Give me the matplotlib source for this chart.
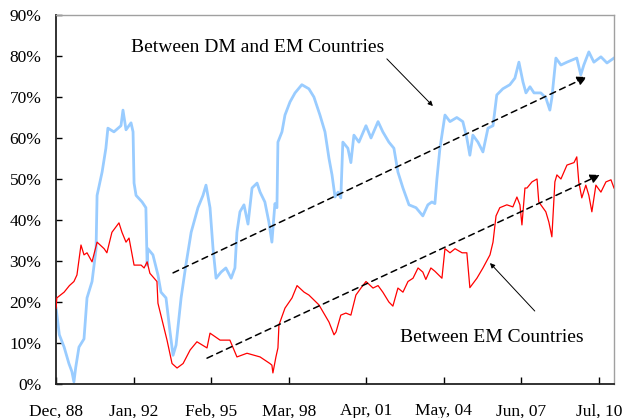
import matplotlib
matplotlib.use("Agg")
import matplotlib.pyplot as plt

# ---- data (decimal years, correlation in %) ----
dm_em_t = [1988.92, 1989.05, 1989.24, 1989.43, 1989.55, 1989.63, 1989.70, 1989.83, 1990.03, 1990.15,
           1990.35, 1990.51, 1990.55, 1990.75, 1990.90, 1990.98, 1991.22, 1991.50, 1991.58, 1991.70,
           1991.90, 1991.98, 1992.02, 1992.10, 1992.34, 1992.49, 1992.54, 1992.57, 1992.77, 1992.97,
           1993.09, 1993.29, 1993.45, 1993.57, 1993.69, 1993.89, 1994.08, 1994.29, 1994.56, 1994.76,
           1994.88, 1995.04, 1995.16, 1995.28, 1995.48, 1995.67, 1995.88, 1996.03, 1996.11, 1996.23,
           1996.39, 1996.55, 1996.71, 1996.91, 1997.03, 1997.22, 1997.38, 1997.50, 1997.62, 1997.70,
           1997.74, 1997.90, 1998.02, 1998.22, 1998.42, 1998.69, 1998.97, 1999.17, 1999.41, 1999.61,
           1999.77, 1999.89, 2000.01, 2000.13, 2000.24, 2000.32, 2000.52, 2000.64, 2000.76, 2000.96,
           2001.24, 2001.44, 2001.72, 2001.91, 2002.15, 2002.35, 2002.51, 2002.71, 2002.95, 2003.23,
           2003.50, 2003.70, 2003.86, 2003.98, 2004.06, 2004.18, 2004.38, 2004.58, 2004.85, 2005.09,
           2005.25, 2005.37, 2005.49, 2005.69, 2005.89, 2006.09, 2006.29, 2006.44, 2006.68, 2006.96,
           2007.16, 2007.32, 2007.48, 2007.60, 2007.76, 2007.92, 2008.19, 2008.39, 2008.55, 2008.63,
           2008.79, 2008.99, 2009.23, 2009.62, 2009.78, 2009.90, 2010.10, 2010.30, 2010.58, 2010.82,
           2011.10]
dm_em_v = [18.5, 12.0, 9.0, 5.0, 3.0, 0.5, 4.0, 9.0, 11.0, 21.0,
           25.0, 33.0, 46.0, 51.7, 57.5, 62.4, 61.5, 63.0, 66.8, 62.0,
           63.7, 61.5, 49.0, 46.0, 44.4, 43.0, 29.0, 33.0, 31.5, 26.6,
           22.4, 21.0, 12.7, 7.0, 9.5, 21.0, 29.0, 37.0, 43.0, 46.0,
           48.5, 43.0, 33.0, 25.8, 27.3, 28.3, 25.8, 28.3, 37.0, 42.0,
           43.7, 39.0, 47.8, 49.0, 46.8, 44.4, 39.5, 34.6, 44.0, 43.0,
           59.0, 61.5, 65.6, 68.8, 71.0, 73.0, 72.0, 70.0, 65.6, 61.5,
           55.0, 51.0, 45.6, 46.8, 45.4, 59.0, 57.5, 54.0, 60.7, 59.0,
           63.0, 60.0, 64.0, 61.5, 59.0, 57.5, 51.7, 47.8, 43.7, 43.0,
           41.0, 43.7, 44.4, 44.0, 50.0, 57.5, 65.6, 64.0, 65.0, 64.0,
           60.0, 55.8, 60.7, 59.0, 56.6, 62.4, 63.0, 70.5, 72.0, 73.0,
           74.6, 78.5, 73.7, 71.0, 72.5, 71.0, 71.0, 69.8, 66.8, 69.8,
           79.5, 77.8, 78.5, 79.5, 75.4, 77.8, 81.0, 78.5, 79.8, 78.3,
           79.5]

em_t = [1988.92, 1988.95, 1989.24, 1989.45, 1989.63, 1989.75, 1989.91, 1990.03, 1990.15, 1990.35,
        1990.55, 1990.83, 1990.94, 1991.14, 1991.42, 1991.54, 1991.70, 1991.82, 1992.02, 1992.30,
        1992.42, 1992.54, 1992.65, 1992.93, 1992.97, 1993.33, 1993.53, 1993.73, 1993.97, 1994.25,
        1994.52, 1994.92, 1995.04, 1995.44, 1995.83, 1996.11, 1996.51, 1997.03, 1997.42, 1997.50,
        1997.54, 1997.66, 1997.74, 1997.78, 1998.02, 1998.30, 1998.50, 1998.78, 1998.97, 1999.37,
        1999.77, 1999.97, 2000.05, 2000.24, 2000.44, 2000.64, 2000.84, 2001.04, 2001.24, 2001.52,
        2001.72, 2001.91, 2002.15, 2002.31, 2002.51, 2002.71, 2002.91, 2003.11, 2003.31, 2003.50,
        2003.62, 2003.82, 2003.98, 2004.26, 2004.38, 2004.58, 2004.78, 2005.06, 2005.25, 2005.37,
        2005.65, 2005.89, 2006.17, 2006.29, 2006.41, 2006.56, 2006.84, 2007.08, 2007.24, 2007.36,
        2007.44, 2007.56, 2007.64, 2007.84, 2008.04, 2008.11, 2008.39, 2008.51, 2008.63, 2008.75,
        2008.83, 2008.99, 2009.23, 2009.51, 2009.62, 2009.70, 2009.82, 2009.98, 2010.10, 2010.22,
        2010.38, 2010.58, 2010.78, 2010.98, 2011.10]
em_v = [18.5, 21.0, 22.4, 24.0, 25.0, 26.6, 33.9, 31.5, 32.0, 29.8,
        34.6, 33.0, 32.0, 37.0, 39.3, 37.0, 34.6, 35.6, 29.0, 29.0,
        28.3, 29.8, 27.0, 25.0, 19.7, 10.7, 5.0, 3.9, 5.0, 8.3,
        10.3, 8.8, 12.4, 10.7, 10.7, 6.6, 7.5, 6.6, 5.0, 4.6,
        2.7, 6.6, 8.8, 14.4, 18.5, 21.0, 24.0, 22.4, 21.7, 19.3,
        15.1, 12.0, 12.7, 16.8, 17.3, 16.8, 21.7, 23.4, 25.0, 23.4,
        24.0, 22.4, 20.0, 19.0, 23.4, 22.4, 25.0, 25.8, 28.3, 27.3,
        25.5, 28.3, 27.5, 25.8, 33.0, 32.0, 33.0, 32.0, 32.0, 23.5,
        25.8, 28.3, 31.5, 34.6, 41.0, 43.0, 43.7, 43.2, 45.6, 43.7,
        38.8, 47.8, 47.8, 49.3, 50.0, 44.4, 42.0, 39.5, 35.9, 49.3,
        51.0, 50.0, 53.4, 54.0, 55.4, 49.3, 45.4, 48.5, 46.0, 42.0,
        48.5, 46.8, 49.3, 49.8, 47.8]

tick_pos = [1988.917, 1992.0, 1995.083, 1998.167, 2001.25, 2004.333, 2007.417, 2010.5]
tick_labels = ["Dec, 88", "Jan, 92", "Feb, 95", "Mar, 98", "Apr, 01", "May, 04", "Jun, 07", "Jul, 10"]
y_ticks = [0, 10, 20, 30, 40, 50, 60, 70, 80, 90]

# trend arrows (start, end) in data coords
trend_dm_em = [(1993.57, 27.1), (2010.02, 74.9)]
trend_em = [(1994.92, 6.3), (2010.54, 51.0)]

plt.rcParams['font.family'] = ['Liberation Serif', 'DejaVu Serif']

fig = plt.figure(figsize=(6.24, 4.18), dpi=100)
ax = fig.add_axes([56/624, 34/418, 558/624, 369/418])

ax.plot(dm_em_t, dm_em_v, color='#99CCFF', lw=2.0, solid_joinstyle='round', zorder=2)
ax.plot(em_t, em_v, color='#FF0000', lw=0.9, zorder=3)

ax.set_xlim(1988.917, 2011.10)
ax.set_ylim(0, 90)

ax.set_xticks(tick_pos)
ax.set_xticklabels(tick_labels)
ax.set_yticks(y_ticks)
ax.set_yticklabels([f"{v}%" for v in y_ticks])
ax.tick_params(axis='x', direction='in', length=5, width=1, pad=14, labelsize=12.5, colors='black')
ax.tick_params(axis='y', direction='in', length=4, width=1, pad=10.5, labelsize=12.5, colors='black')

for s in ['left', 'bottom']:
    ax.spines[s].set_color('#222222')
    ax.spines[s].set_linewidth(1.3)
for s in ['top', 'right']:
    ax.spines[s].set_color('#A0A0A0')
    ax.spines[s].set_linewidth(1.0)

# dashed trend arrows
for (p0, p1) in [trend_dm_em, trend_em]:
    ax.annotate('', xy=p1, xytext=p0,
                arrowprops=dict(arrowstyle='-|>', linestyle=(0, (4, 3)), color='black',
                                lw=1.1, mutation_scale=14, shrinkA=0, shrinkB=0),
                zorder=4)

# labels with pointer arrows
ax.annotate('', xy=(2003.90, 67.8), xytext=(2002.07, 79.3),
            arrowprops=dict(arrowstyle='-|>', color='black', lw=0.7, mutation_scale=7,
                            shrinkA=0, shrinkB=0))
ax.text(1991.90, 82.0, 'Between DM and EM Countries', fontsize=14, ha='left', va='center')

ax.annotate('', xy=(2006.17, 29.5), xytext=(2007.95, 17.8),
            arrowprops=dict(arrowstyle='-|>', color='black', lw=0.7, mutation_scale=7,
                            shrinkA=0, shrinkB=0))
ax.text(2002.59, 11.3, 'Between EM Countries', fontsize=14, ha='left', va='center')

fig.savefig('out.png', dpi=100)
